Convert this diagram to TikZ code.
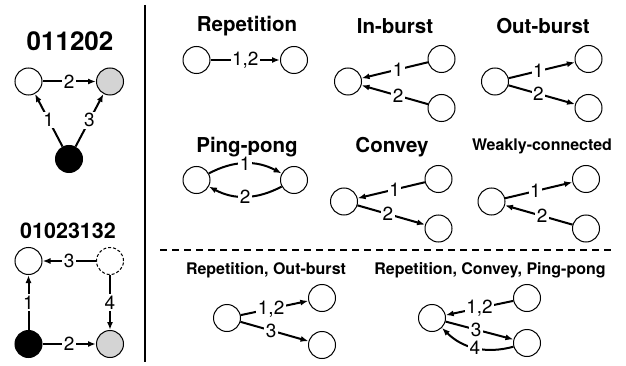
\documentclass[tikz,border=0pt]{standalone}
\usepackage{fontspec}
\setmainfont{TeX Gyre Heros}
\usetikzlibrary{arrows.meta}
\tikzset{
  circ/.style={circle, draw, line width=1pt, minimum size=27pt, inner sep=0pt, fill=white},
  edge/.style={line width=2pt, -{Latex[length=8pt,width=6pt]}},
  lbl/.style={fill=white, inner sep=1.5pt, font=\fontsize{19}{19}\selectfont},
  ttl/.style={font=\bfseries\fontsize{20.5}{21}\selectfont, inner sep=0pt},
  sttl/.style={font=\bfseries\fontsize{16}{16}\selectfont, inner sep=0pt},
}
\begin{document}
\begin{tikzpicture}[x=1pt,y=-1pt]
\useasboundingbox (0,0) rectangle (626,366);
% left panel
\node[font=\bfseries\fontsize{26}{26}\selectfont, inner sep=0pt] (t1) at (70,41) {011202};
\node[circ] (a1) at (28.5,81.5) {};
\node[circ, fill=black!17] (b1) at (110,81.5) {};
\node[circ, fill=black] (c1) at (69,159) {};
\draw[edge] (a1) -- node[lbl]{2} (b1);
\draw[edge] (c1) -- node[lbl]{1} (a1);
\draw[edge] (c1) -- node[lbl]{3} (b1);

\node[font=\bfseries\fontsize{21.5}{22}\selectfont, inner sep=0pt] (t2) at (68,231) {01023132};
\node[circ, fill=white] (a2) at (28.5,261) {};
\node[circ, dashed, dash pattern=on 3pt off 2pt] (d2) at (110,261) {};
\node[circ, fill=black] (k2) at (28.5,344) {};
\node[circ, fill=black!17] (g2) at (110,344) {};
\draw[edge] (d2) -- node[lbl]{3} (a2);
\draw[edge] (k2) -- node[lbl]{1} (a2);
\draw[edge] (d2) -- node[lbl]{4} (g2);
\draw[edge] (k2) -- node[lbl]{2} (g2);

% separators
\draw[line width=1.8pt] (145,5) -- (145,362);
\draw[line width=1.6pt, dash pattern=on 7pt off 5pt] (160,250) -- (613,250);

% Repetition
\node[ttl] (tr) at (247,26) {Repetition};
\node[circ] (r1) at (196.5,60) {};
\node[circ] (r2) at (294,60) {};
\draw[edge] (r1) -- node[lbl]{1,2} (r2);

% In-burst
\node[ttl] (ti) at (395,26) {In-burst};
\node[circ] (i0) at (348,81.5) {};
\node[circ] (i1) at (441.5,59) {};
\node[circ] (i2) at (441.5,108) {};
\draw[edge] (i1) -- node[lbl, pos=0.45]{1} (i0);
\draw[edge] (i2) -- node[lbl, pos=0.45]{2} (i0);

% Out-burst
\node[ttl] (to) at (543,26) {Out-burst};
\node[circ] (o0) at (495,81.5) {};
\node[circ] (o1) at (588.5,59) {};
\node[circ] (o2) at (588.5,108) {};
\draw[edge] (o0) -- node[lbl, pos=0.45]{1} (o1);
\draw[edge] (o0) -- node[lbl, pos=0.45]{2} (o2);

% Ping-pong
\node[ttl] (tp) at (247,147) {Ping-pong};
\node[circ] (p1) at (196.5,180) {};
\node[circ] (p2) at (294,180) {};
\draw[edge] (p1) to[bend left=28] node[lbl]{1} (p2);
\draw[edge] (p2) to[bend left=28] node[lbl]{2} (p1);

% Convey
\node[ttl] (tc) at (392,147) {Convey};
\node[circ] (c0) at (344,201.5) {};
\node[circ] (cc1) at (438.5,179) {};
\node[circ] (cc2) at (438.5,228.5) {};
\draw[edge] (cc1) -- node[lbl, pos=0.45]{1} (c0);
\draw[edge] (c0) -- node[lbl, pos=0.45]{2} (cc2);

% Weakly-connected
\node[sttl] (tw) at (542,146) {Weakly-connected};
\node[circ] (w0) at (491.5,201.5) {};
\node[circ] (w1) at (586,179) {};
\node[circ] (w2) at (586,228.5) {};
\draw[edge] (w0) -- node[lbl, pos=0.45]{1} (w1);
\draw[edge] (w2) -- node[lbl, pos=0.45]{2} (w0);

% Repetition, Out-burst
\node[sttl] (tro) at (266,270) {Repetition, Out-burst};
\node[circ] (ro0) at (227,318) {};
\node[circ] (ro1) at (322,298) {};
\node[circ] (ro2) at (322,345) {};
\draw[edge] (ro0) -- node[lbl, pos=0.45]{1,2} (ro1);
\draw[edge] (ro0) -- node[lbl, pos=0.45]{3} (ro2);

% Repetition, Convey, Ping-pong
\node[sttl] (trc) at (490,270) {Repetition, Convey, Ping-pong};
\node[circ] (rc0) at (432,318) {};
\node[circ] (rc1) at (527,298) {};
\node[circ] (rc2) at (527,343) {};
\draw[edge] (rc1) -- node[lbl, pos=0.5]{1,2} (rc0);
\draw[edge] (rc0) -- node[lbl, pos=0.45]{3} (rc2);
\draw[edge] (rc2) to[bend left=30] node[lbl, pos=0.5]{4} (rc0);
\end{tikzpicture}
\end{document}
